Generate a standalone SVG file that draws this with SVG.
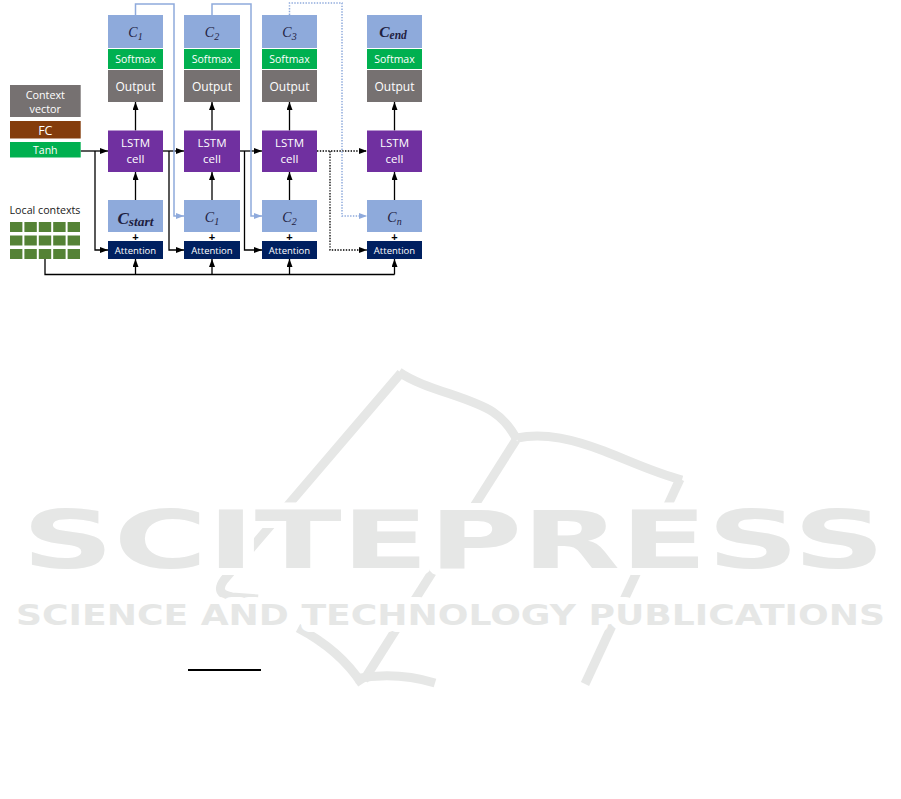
<svg xmlns="http://www.w3.org/2000/svg" width="901" height="799" viewBox="0 0 901 799">
<defs>
<style>
.cb{fill:#8EAADB}
.sm{fill:#00B050}
.out{fill:#767171}
.lstm{fill:#7030A0}
.att{fill:#002060}
.fc{fill:#843C0C}
.grid{fill:#548235}
.w{font-family:"Open Sans","Liberation Sans",sans-serif;fill:#fff;text-anchor:middle}
.ci{font-family:"Liberation Serif","DejaVu Serif",serif;font-style:italic;fill:#1e2040;text-anchor:middle;font-size:14px}
.cbi{font-family:"Liberation Serif","DejaVu Serif",serif;font-style:italic;font-weight:bold;fill:#1e2040;text-anchor:middle}
.plus{font-family:"Liberation Sans",sans-serif;font-weight:bold;font-size:11px;fill:#000;text-anchor:middle}
.k{stroke:#000;stroke-width:1.3;fill:none}
.kd{stroke:#000;stroke-width:1.3;fill:none;stroke-dasharray:1.4 1.4}
.b{stroke:#8FAADC;stroke-width:1.5;fill:none}
.bd{stroke:#8FAADC;stroke-width:1.5;fill:none;stroke-dasharray:1.4 1.4}
.wm{stroke:#e6e7e6;stroke-width:9;fill:none}
.wmt{font-family:"DejaVu Sans","Liberation Sans",sans-serif;font-weight:bold;fill:#e6e7e6;stroke:#fff;stroke-width:14;stroke-linejoin:round;paint-order:stroke}
</style>
<marker id="ah" viewBox="0 0 8 6" refX="8" refY="3" markerWidth="8" markerHeight="6" orient="auto" markerUnits="userSpaceOnUse"><path d="M0,0 L8,3 L0,6 z" fill="#000"/></marker>
<marker id="bh" viewBox="0 0 8 6" refX="8" refY="3" markerWidth="8" markerHeight="6" orient="auto" markerUnits="userSpaceOnUse"><path d="M0,0 L8,3 L0,6 z" fill="#8FAADC"/></marker>
</defs>
<rect width="901" height="799" fill="#fff"/>

<g id="watermark">
<path class="wm" d="M401 373 L224 580 Q214 594 232 597 L258 599"/>
<path class="wm" d="M399 372 C425 390 468 396 493 412 C505 420 512 430 517 440"/>
<path class="wm" d="M517 438 C545 432 575 440 604 451 C630 461 655 473 682 480"/>
<path class="wm" d="M516 440 L364 680"/>
<path class="wm" d="M680 479 L585 684"/>
<path class="wm" d="M298 628 Q340 650 362 684"/>
<path class="wm" d="M355 679 Q395 671 435 683"/>
<text class="wmt" x="22" y="568" font-size="81" textLength="863" lengthAdjust="spacingAndGlyphs">SCITEPRESS</text>
<text class="wmt" x="16" y="625" font-size="27.5" textLength="869" lengthAdjust="spacingAndGlyphs">SCIENCE AND TECHNOLOGY PUBLICATIONS</text>
</g>
<line x1="188" y1="670" x2="261" y2="670" stroke="#000" stroke-width="2"/>

<g id="connectors">
<path class="k" d="M80.7 151 H108" marker-end="url(#ah)"/>
<path class="k" d="M95 151 V250 H108" marker-end="url(#ah)"/>
<path class="k" d="M163 151 H184" marker-end="url(#ah)"/>
<path class="k" d="M169 151 V250 H184" marker-end="url(#ah)"/>
<path class="k" d="M240 151 H262" marker-end="url(#ah)"/>
<path class="k" d="M244.5 151 V250 H262" marker-end="url(#ah)"/>
<path class="kd" d="M317 151 H367" marker-end="url(#ah)"/>
<path class="kd" d="M330 151 V250 H367" marker-end="url(#ah)"/>
<path class="k" d="M135.5 130.5 V102" marker-end="url(#ah)"/>
<path class="k" d="M212 130.5 V102" marker-end="url(#ah)"/>
<path class="k" d="M289.5 130.5 V102" marker-end="url(#ah)"/>
<path class="k" d="M394.5 130.5 V102" marker-end="url(#ah)"/>
<path class="k" d="M135.5 200 V172" marker-end="url(#ah)"/>
<path class="k" d="M212 200 V172" marker-end="url(#ah)"/>
<path class="k" d="M289.5 200 V172" marker-end="url(#ah)"/>
<path class="k" d="M394.5 200 V172" marker-end="url(#ah)"/>
<path class="k" d="M45 259 V274.5 H394.5"/>
<path class="k" d="M135.5 274.5 V259" marker-end="url(#ah)"/>
<path class="k" d="M212 274.5 V259" marker-end="url(#ah)"/>
<path class="k" d="M289.5 274.5 V259" marker-end="url(#ah)"/>
<path class="k" d="M394.5 274.5 V259" marker-end="url(#ah)"/>
<path class="b" d="M135.5 15 V4 H174 V216 H184" marker-end="url(#bh)"/>
<path class="b" d="M212 15 V4 H251 V216 H262" marker-end="url(#bh)"/>
<path class="bd" d="M289.5 15 V3 H342 V216 H367" marker-end="url(#bh)"/>
</g>

<g id="context">
<rect class="out" x="10" y="85" width="70.7" height="32"/>
<text class="w" x="45.3" y="98.5" font-size="10.8">Context</text>
<text class="w" x="45.3" y="112.5" font-size="10.8">vector</text>
</g>
<g id="fc">
<rect class="fc" x="10" y="121" width="70.7" height="17.5"/>
<text class="w" x="45.3" y="135" font-size="12.5">FC</text>
</g>
<g id="tanh">
<rect class="sm" x="10" y="142" width="70.7" height="15.5"/>
<text class="w" x="45.3" y="154" font-size="10.5">Tanh</text>
</g>
<g id="local-contexts">
<text x="9.5" y="214" font-family="Open Sans, Liberation Sans, sans-serif" font-size="10.7" fill="#1a1a1a">Local contexts</text>
<rect class="grid" x="10" y="222" width="12.4" height="10"/>
<rect class="grid" x="24.4" y="222" width="12.4" height="10"/>
<rect class="grid" x="38.8" y="222" width="12.4" height="10"/>
<rect class="grid" x="53.2" y="222" width="12.4" height="10"/>
<rect class="grid" x="67.6" y="222" width="12.4" height="10"/>
<rect class="grid" x="10" y="235.5" width="12.4" height="10"/>
<rect class="grid" x="24.4" y="235.5" width="12.4" height="10"/>
<rect class="grid" x="38.8" y="235.5" width="12.4" height="10"/>
<rect class="grid" x="53.2" y="235.5" width="12.4" height="10"/>
<rect class="grid" x="67.6" y="235.5" width="12.4" height="10"/>
<rect class="grid" x="10" y="249" width="12.4" height="10"/>
<rect class="grid" x="24.4" y="249" width="12.4" height="10"/>
<rect class="grid" x="38.8" y="249" width="12.4" height="10"/>
<rect class="grid" x="53.2" y="249" width="12.4" height="10"/>
<rect class="grid" x="67.6" y="249" width="12.4" height="10"/>
</g>

<g id="col1">
<rect class="cb" x="108" y="15" width="55" height="33"/>
<text class="ci" x="135.5" y="37">C<tspan font-size="10" dy="3">1</tspan></text>
<rect class="sm" x="108" y="49" width="55" height="20"/>
<text class="w" x="135.5" y="63" font-size="10.5">Softmax</text>
<rect class="out" x="108" y="70" width="55" height="32"/>
<text class="w" x="135.5" y="91" font-size="12">Output</text>
<rect class="lstm" x="108" y="130.5" width="55" height="41.5"/>
<text class="w" x="135.5" y="147" font-size="11.5">LSTM</text>
<text class="w" x="135.5" y="163" font-size="11.5">cell</text>
<rect class="cb" x="108" y="200" width="55" height="32"/>
<text class="cbi" x="135.5" y="224" font-size="17">C<tspan font-size="13.5" dy="2">start</tspan></text>
<text class="plus" x="135.5" y="240.5">+</text>
<rect class="att" x="108" y="241" width="55" height="18"/>
<text class="w" x="135.5" y="253.5" font-size="9.5">Attention</text>
</g>

<g id="col2">
<rect class="cb" x="184" y="15" width="56" height="33"/>
<text class="ci" x="212" y="37">C<tspan font-size="10" dy="3">2</tspan></text>
<rect class="sm" x="184" y="49" width="56" height="20"/>
<text class="w" x="212" y="63" font-size="10.5">Softmax</text>
<rect class="out" x="184" y="70" width="56" height="32"/>
<text class="w" x="212" y="91" font-size="12">Output</text>
<rect class="lstm" x="184" y="130.5" width="56" height="41.5"/>
<text class="w" x="212" y="147" font-size="11.5">LSTM</text>
<text class="w" x="212" y="163" font-size="11.5">cell</text>
<rect class="cb" x="184" y="200" width="56" height="32"/>
<text class="ci" x="212" y="222">C<tspan font-size="10" dy="3">1</tspan></text>
<text class="plus" x="212" y="240.5">+</text>
<rect class="att" x="184" y="241" width="56" height="18"/>
<text class="w" x="212" y="253.5" font-size="9.5">Attention</text>
</g>

<g id="col3">
<rect class="cb" x="262" y="15" width="55" height="33"/>
<text class="ci" x="289.5" y="37">C<tspan font-size="10" dy="3">3</tspan></text>
<rect class="sm" x="262" y="49" width="55" height="20"/>
<text class="w" x="289.5" y="63" font-size="10.5">Softmax</text>
<rect class="out" x="262" y="70" width="55" height="32"/>
<text class="w" x="289.5" y="91" font-size="12">Output</text>
<rect class="lstm" x="262" y="130.5" width="55" height="41.5"/>
<text class="w" x="289.5" y="147" font-size="11.5">LSTM</text>
<text class="w" x="289.5" y="163" font-size="11.5">cell</text>
<rect class="cb" x="262" y="200" width="55" height="32"/>
<text class="ci" x="289.5" y="222">C<tspan font-size="10" dy="3">2</tspan></text>
<text class="plus" x="289.5" y="240.5">+</text>
<rect class="att" x="262" y="241" width="55" height="18"/>
<text class="w" x="289.5" y="253.5" font-size="9.5">Attention</text>
</g>

<g id="col4">
<rect class="cb" x="367" y="15" width="55" height="33"/>
<text class="cbi" x="393" y="37" font-size="15.5">C<tspan font-size="11.5" dy="2">end</tspan></text>
<rect class="sm" x="367" y="49" width="55" height="20"/>
<text class="w" x="394.5" y="63" font-size="10.5">Softmax</text>
<rect class="out" x="367" y="70" width="55" height="32"/>
<text class="w" x="394.5" y="91" font-size="12">Output</text>
<rect class="lstm" x="367" y="130.5" width="55" height="41.5"/>
<text class="w" x="394.5" y="147" font-size="11.5">LSTM</text>
<text class="w" x="394.5" y="163" font-size="11.5">cell</text>
<rect class="cb" x="367" y="200" width="55" height="32"/>
<text class="ci" x="394.5" y="222">C<tspan font-size="10" dy="3">n</tspan></text>
<text class="plus" x="394.5" y="240.5">+</text>
<rect class="att" x="367" y="241" width="55" height="18"/>
<text class="w" x="394.5" y="253.5" font-size="9.5">Attention</text>
</g>
</svg>
